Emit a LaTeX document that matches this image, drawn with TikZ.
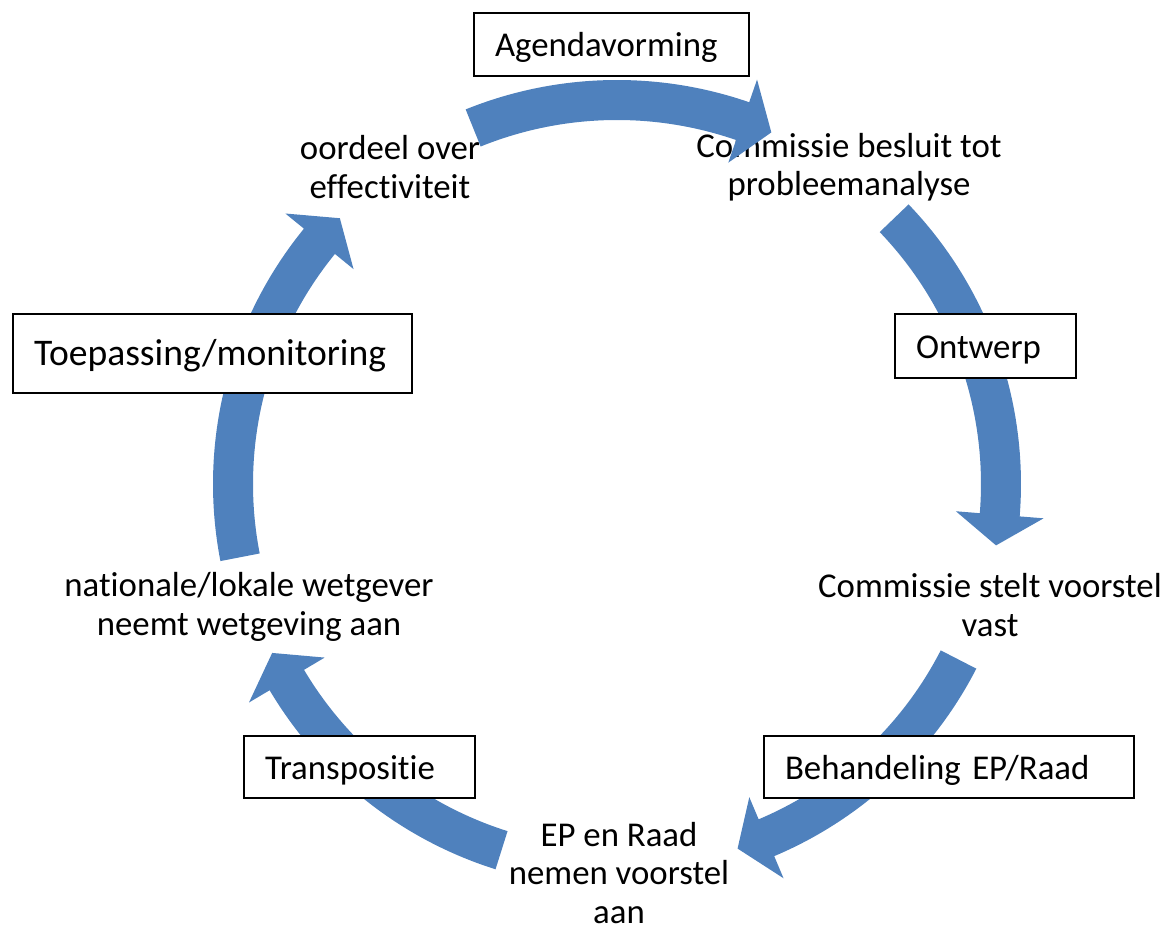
\documentclass[tikz,border=0pt]{standalone}
\usepackage{fontspec}
\setmainfont{Carlito}[Ligatures=NoCommon]
\usepackage{xcolor}
\usepackage{tikz}

\definecolor{arrowblue}{RGB}{79,129,189}
\newcommand{\stagefont}{\fontsize{17.4}{19.2}\selectfont}
\newcommand{\bigstagefont}{\fontsize{18.8}{21}\selectfont}

\begin{document}
\begin{tikzpicture}[x=0.5pt,y=0.5pt,
  stage/.style={align=center, font=\stagefont},
  labelbox/.style={draw, fill=white, line width=1pt, inner xsep=10.5pt, inner ysep=0pt,
    text height=14pt, text depth=2pt, align=left, anchor=north west, font=\stagefont},
  cyclearrow/.style={fill=arrowblue}]

  \useasboundingbox (0,0) rectangle (1168,-925);

  \node[stage] (beoordeel) at (390,-167) {oordeel over\\effectiviteit};
  \node[stage] (besluit) at (849,-167) {Commissie besluit tot\\probleemanalyse};
  \node[stage] (voorstel) at (990,-605) {Commissie stelt voorstel\\vast};
  \node[stage] (aanname) at (619,-873) {EP en Raad\\nemen voorstel\\aan};
  \node[stage] (wetgever) at (249,-607) {nationale/lokale wetgever\\neemt wetgeving aan};

  \begin{scope}[shift={(617,-484)}]
    \foreach \t/\b in {112/70.9, 43.8/-4.6, -27.2/-67.1, -107.5/-149.3, 191/140.8}
      \fill[cyclearrow] (\t:404) arc[start angle=\t, end angle=\b, radius=404]
        -- (\b:428) -- (\b-4.6:384) -- (\b:340) -- (\b:364)
        arc[start angle=\b, end angle=\t, radius=364] -- cycle;
  \end{scope}

  \node[labelbox, text width=116.5pt, minimum height=31.5pt] (agenda) at (473,-12) {Agendavorming};
  \node[labelbox, text width=69.5pt, minimum height=32pt] (ontwerp) at (894,-313) {Ontwerp};
  \node[labelbox, text width=164pt, minimum height=31pt] (behandeling) at (763,-735) {Behandeling EP/Raad};
  \node[labelbox, text width=94.5pt, minimum height=31pt] (transpositie) at (243,-735) {Transpositie};
  \node[labelbox, text width=178.5pt, minimum height=39.5pt, font=\bigstagefont] (toepassing) at (12,-313) {Toepassing/monitoring};

\end{tikzpicture}
\end{document}
